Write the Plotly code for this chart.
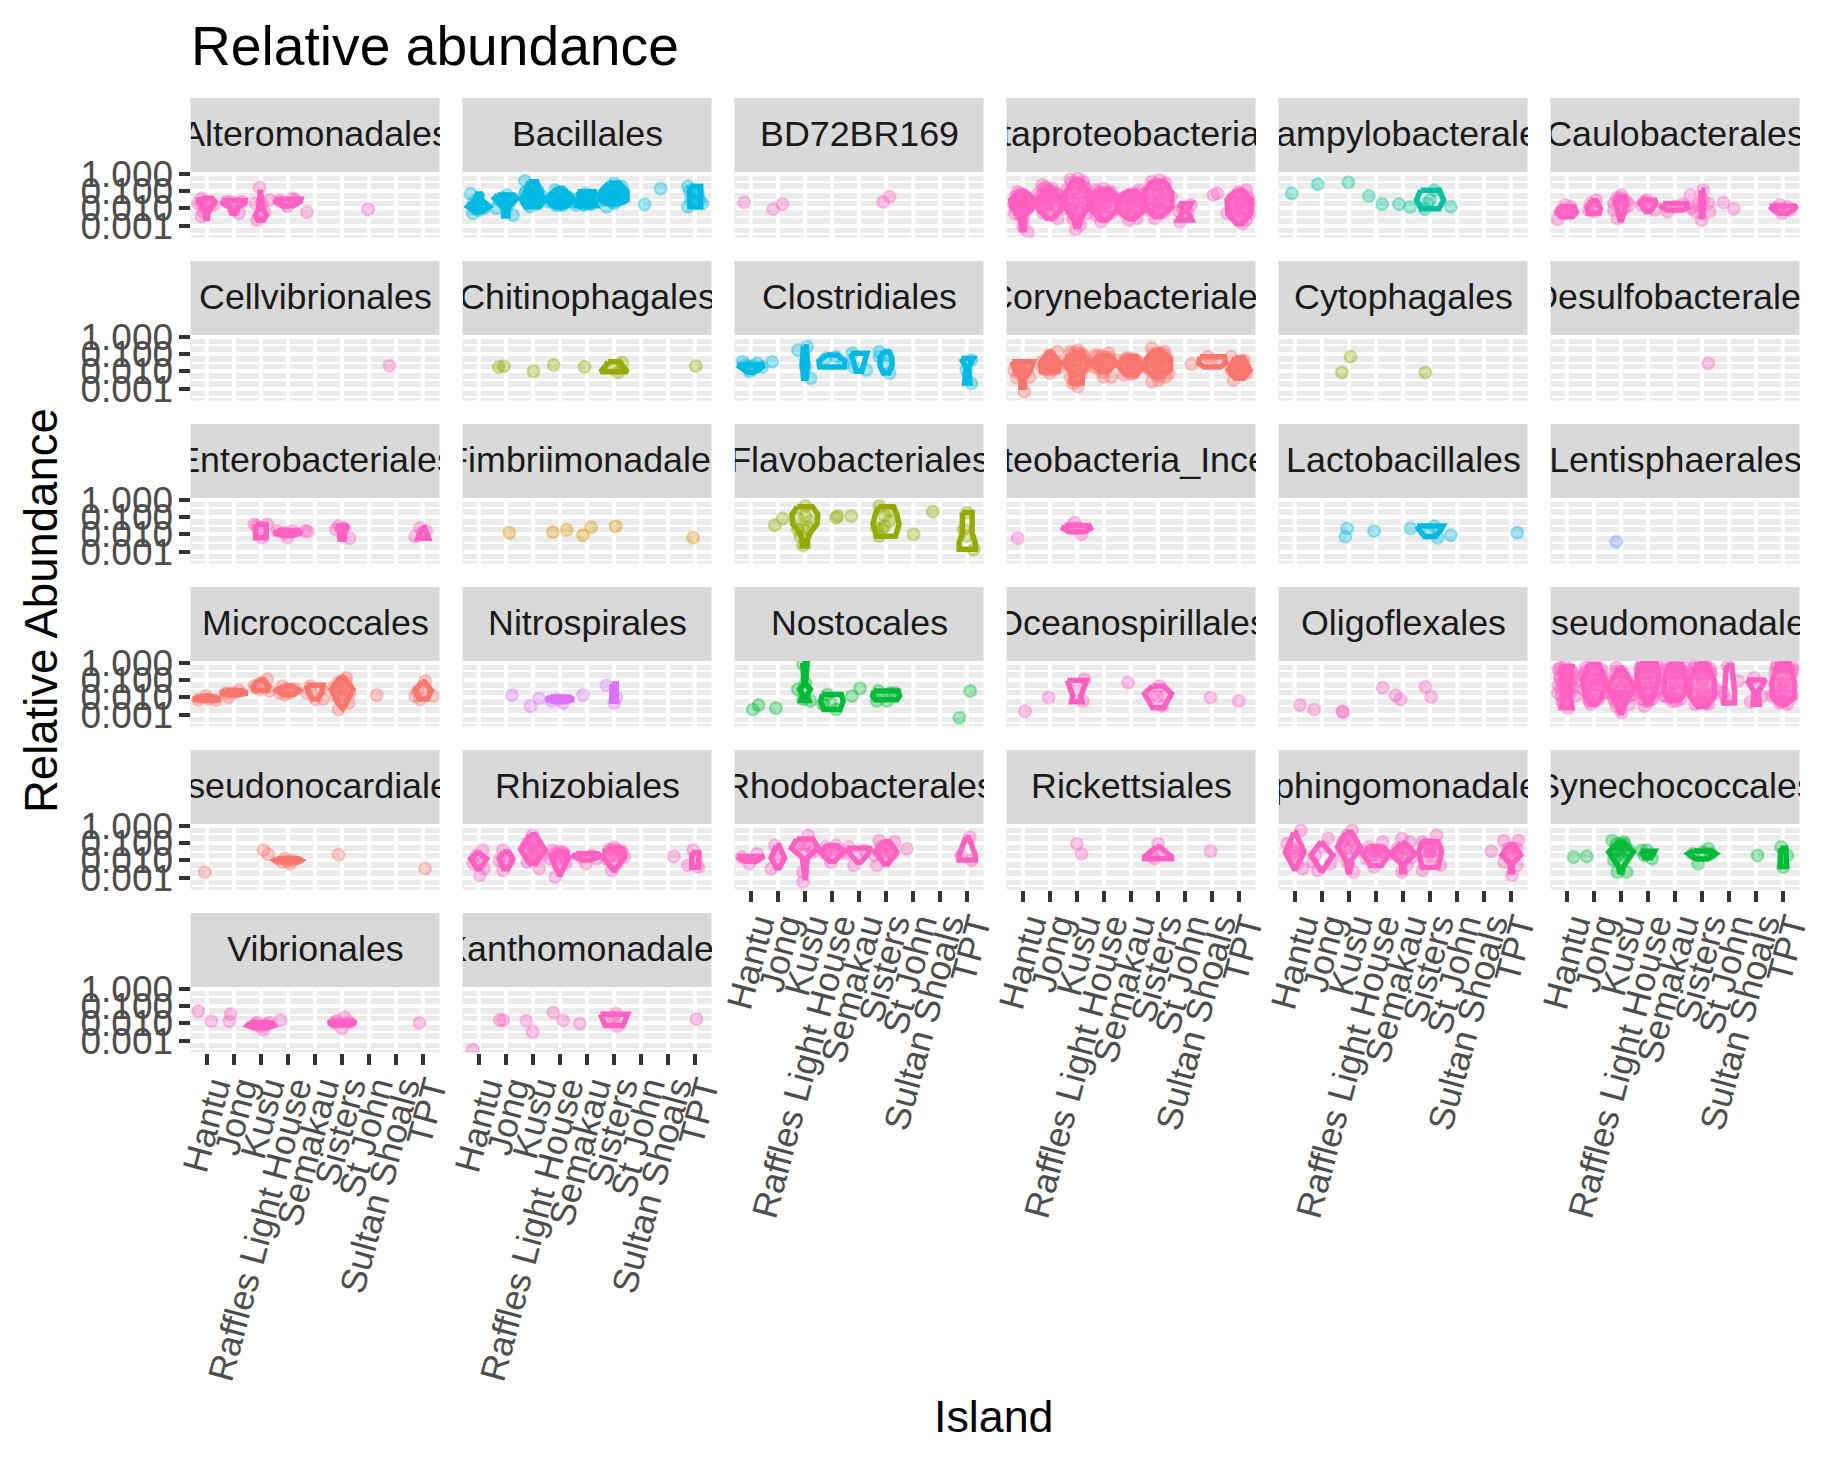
import plotly.graph_objects as go

# ---------- labels ----------
ISLANDS = ["Hantu", "Jong", "Kusu", "Raffles Light House", "Semakau", "Sisters", "St John", "Sultan Shoals", "TPT"]
Y_TICK_VALUES = [1.0, 0.1, 0.01, 0.001]
Y_TICK_LABELS = ["1.000", "0.100", "0.010", "0.001"]
Y_MINOR_VALUES = [0.316, 0.0316, 0.00316, 0.000316]

# ---------- phylum hues ----------
PINK = "255,97,195"
BLUE = "0,185,227"
SALMON = "248,118,109"
OLIVE = "147,170,0"
TEAL = "0,193,159"
GREEN = "0,186,56"
TAN = "211,146,0"
PURPLE = "219,114,251"
PERI = "97,156,255"

# ---------- data: x = island position with jitter, y = relative abundance,
# violins = (island, abundance levels, half widths) ----------
alteromonadales_x = [.81,.68,.81,.97,.81,.87,1.15,1.25,.97, 1.72,1.91,2.10,2.19,2.29,2.00, 2.95,2.80,3.32,2.85,2.95,3.13,3.04, 3.70,4.17,3.98,4.27,3.89, 4.70, 6.96]
alteromonadales_y = [.038,.019,.019,.024,.0033,.0064,.019,.0155,.008, .024,.024,.019,.0052,.024,.008, .16,.019,.03,.0021,.0033,.0064,.019, .028,.038,.013,.03,.019, .006, .0088]
alteromonadales_v = [(1,[.038,.024,.0125,.0064,.0026],[.2,.3,.18,.05,.03]), (2,[.028,.019,.012,.0052],[.42,.4,.15,.07]), (3,[.12,.03,.01,.0041,.0021],[.02,.04,.08,.2,.1]), (4,[.034,.024,.014],[.48,.45,.2])]

bacillales_x = [.70,.78,.91,1.19,.97, 1.66,1.89,2.04,2.27,2.13,1.76, 2.70,2.79,2.98,3.17,3.36,2.70,2.89,3.17,2.98, 3.83,4.02,4.30,3.55,4.11,3.93,4.40, 4.68,4.96,5.25,4.59,5.15,4.87, 5.72,6.0,6.19,5.91,6.28,5.62,6.09,5.81,6.0, 7.13, 7.72, 8.73,8.73,9.26,8.92,9.02,
    .8,.95,1.05,.85,1.0, 1.85,2.0,2.1,1.95,2.0,
    2.75,2.9,3.05,3.2,2.75,2.9,3.05,3.2,2.9,3.05,2.95,3.05,
    3.7,3.85,4.0,4.15,4.3,3.7,3.85,4.0,4.15,4.3,3.85,4.0,3.95,4.1,
    4.7,4.85,5.0,5.15,5.3,4.75,4.9,5.05,5.2,4.85,5.0,5.15,
    5.75,5.9,6.05,6.2,5.7,5.85,6.0,6.15,6.3,5.7,5.85,6.0,6.15,6.3,5.9,6.05,6.0,
    8.8,8.95,9.1,8.85,9.0,9.15]
bacillales_y = [.068,.0052,.0155,.01,.024, .01,.038,.059,.0041,.019,.03, .39,.019,.114,.019,.047,.073,.0125,.114,.038, .114,.019,.047,.024,.0155,.038,.024, .024,.073,.038,.0155,.019,.0155, .0125,.28,.038,.114,.18,.03,.059,.047,.019, .017, .14, .18,.0125,.019,.073,.019,
    .02,.018,.012,.01,.008, .028,.025,.03,.018,.012,
    .09,.09,.09,.08,.04,.04,.04,.04,.022,.022,.2,.15,
    .04,.05,.05,.05,.04,.025,.025,.025,.025,.025,.015,.015,.08,.08,
    .04,.05,.05,.05,.04,.025,.03,.03,.028,.018,.018,.018,
    .09,.12,.12,.1,.06,.07,.07,.07,.06,.035,.04,.04,.04,.035,.025,.025,.18,
    .1,.1,.08,.03,.03,.03]
bacillales_v = [(1,[.068,.038,.0125,.0064],[.15,.05,.4,.1]), (2,[.059,.038,.012,.0036],[.3,.42,.08,.08]), (3,[.34,.1,.03,.0125],[.15,.25,.42,.25]), (4,[.14,.06,.03,.0125],[.1,.35,.48,.2]), (5,[.09,.04,.014],[.35,.2,.35]), (6,[.28,.1,.03,.019],[.2,.48,.48,.2]), (9,[.19,.05,.0125],[.2,.22,.2])]

bd72br169_x = [.76,1.83,2.17,5.89,6.13]
bd72br169_y = [.022,.0088,.0175,.023,.047]
bd72br169_v = []

betaproteobacteriales_x = [.81,.97,1.12,.74,.93,1.15,.68,.87,1.06,1.25,.78,.97,1.19,.91,1.02,.70,1.19,1.0,
    1.72,1.57,1.87,2.10,1.63,1.81,2.00,2.29,2.44,1.68,1.91,2.19,1.76,2.10,2.29,2.00,
    2.76,3.04,3.23,2.62,2.95,3.32,3.42,2.66,2.85,3.13,3.42,2.57,2.81,3.13,3.38,2.85,3.04,2.95,3.13,
    3.70,3.98,4.27,4.45,3.60,3.85,4.13,3.57,3.79,4.08,4.36,3.70,3.98,4.27,3.89,
    4.74,5.02,5.30,5.45,4.64,4.92,5.21,5.40,4.70,5.02,5.34,4.92,5.21,
    5.77,6.06,6.28,5.64,5.96,6.24,6.47,5.53,5.77,6.06,6.40,5.68,5.96,6.24,5.87,
    7.22,6.90,6.81,7.09,7.0,6.77, 8.04,8.19,
    9.26,8.98,8.70,9.45,9.17,8.55,8.88,9.26,8.79,9.41,9.11,9.26,
    .75,.85,.95,1.05,1.15,.8,.9,1.0,1.1,.85,.95,1.05,.9,1.0,.95,
    1.75,1.85,1.95,2.1,2.25,1.7,1.8,1.95,2.1,2.3,1.75,1.9,2.05,2.2,1.95,
    2.8,2.95,3.1,3.25,2.7,2.85,3.0,3.2,3.3,2.75,2.9,3.05,3.25,2.95,3.05,2.9,
    3.75,3.9,4.05,4.2,3.7,3.85,4.0,4.15,4.3,3.7,3.85,4.0,4.15,3.85,4.0,
    4.8,4.95,5.1,5.25,4.7,4.85,5.0,5.15,5.3,4.75,4.9,5.05,5.2,4.95,5.1,
    5.8,5.95,6.1,6.25,5.7,5.85,6.0,6.15,6.35,5.7,5.85,6.0,6.15,6.3,5.85,6.0,6.15,
    8.8,8.95,9.1,9.3,8.75,8.9,9.05,9.2,9.35,8.8,8.95,9.1,9.3,9.0,9.1]
betaproteobacteriales_y = [.09,.059,.047,.03,.038,.024,.0155,.019,.0125,.019,.008,.0064,.01,.0041,.0026,.0052,.0004,.00088,
    .22,.073,.114,.09,.03,.038,.03,.038,.019,.0125,.0125,.0125,.0052,.0041,.0026,.073,
    .47,.54,.35,.114,.14,.14,.059,.038,.03,.047,.019,.01,.008,.01,.0052,.0026,.0021,.0006,.0011,
    .114,.14,.09,.038,.038,.038,.03,.0125,.01,.0125,.01,.0041,.0033,.0052,.0017,
    .038,.073,.114,.059,.0155,.019,.024,.019,.0064,.0064,.008,.0021,.0026,
    .35,.43,.28,.114,.114,.09,.047,.024,.03,.03,.0155,.008,.0064,.0064,.0026,
    .0155,.01,.0017,.0052,.0033,.0064, .059,.073,
    .114,.09,.03,.024,.038,.0052,.0125,.01,.0041,.0052,.00136,.0021,
    .05,.06,.07,.05,.04,.025,.03,.022,.028,.012,.014,.011,.007,.006,.004,
    .13,.17,.12,.14,.07,.06,.05,.06,.05,.06,.02,.02,.02,.018,.008,
    .3,.3,.25,.2,.08,.09,.08,.08,.09,.02,.02,.02,.02,.007,.007,.004,
    .08,.08,.09,.07,.05,.055,.05,.05,.05,.02,.02,.02,.02,.007,.007,
    .05,.05,.06,.07,.035,.035,.035,.04,.035,.011,.012,.011,.012,.004,.004,
    .2,.25,.22,.16,.07,.07,.07,.07,.07,.018,.018,.018,.02,.02,.012,.01,.01,
    .05,.055,.06,.05,.02,.022,.02,.022,.02,.007,.008,.007,.008,.003,.003]
betaproteobacteriales_v = [(1,[.09,.03,.012,.004,.0006],[.1,.45,.4,.08,.05]), (2,[.15,.03,.008,.0026],[.1,.45,.4,.1]), (3,[.4,.06,.01,.0021,.0009],[.15,.45,.4,.1,.05]), (4,[.11,.03,.008,.0021],[.25,.5,.45,.12]), (5,[.09,.025,.006,.0026],[.2,.45,.4,.1]), (6,[.35,.08,.012,.0033],[.25,.5,.5,.12]), (7,[.019,.007,.0021],[.22,.08,.25]), (9,[.11,.03,.005,.0013],[.1,.45,.42,.1])]

campylobacterales_x = [.89,1.85,2.98,3.74,4.23,4.85,5.26,5.81,6.15,6.0,5.91,6.77]
campylobacterales_y = [.073,.25,.32,.052,.0175,.0175,.012,.0088,.114,.03,.019,.0125]
campylobacterales_v = [(6,[.11,.03,.0095],[.35,.5,.33])]

caulobacterales_x = [.76,.95,1.23,.98,.66,1.14, 1.89,1.98,1.80,2.08,1.98, 2.74,3.02,3.21,2.87,3.02,2.74,3.12,2.93,3.30, 3.96,4.25,3.77,4.06,3.87, 4.72,5.28,5.0,5.62, 5.57,6.04,6.23,5.98,5.75,6.28,6.04,5.85, 6.79,7.17, 8.77,8.96,9.15,8.87,9.24,
    .85,.95,1.05, 2.85,3.0,3.1,2.95]
caulobacterales_y = [.0064,.0155,.0064,.0052,.0023,.0125, .019,.0064,.008,.03,.0125, .019,.059,.024,.0026,.0064,.008,.01,.03,.0155, .03,.008,.0155,.0155,.024, .0064,.017,.012,.01, .059,.114,.019,.0021,.0064,.0064,.03,.0155, .021,.0095, .01,.0052,.0125,.0155,.008,
    .008,.007,.008, .04,.04,.03,.02]
caulobacterales_v = [(1,[.0125,.006,.0033],[.25,.35,.2]), (2,[.028,.01,.0052],[.1,.25,.2]), (3,[.047,.02,.006,.0021],[.15,.2,.1,.03]), (4,[.03,.02,.0064],[.25,.3,.08]), (5,[.019,.012,.008],[.45,.5,.3]), (6,[.114,.02,.0033],[.03,.06,.03]), (9,[.0135,.009,.0052],[.5,.4,.15])]

cellvibrionales_x = [7.75]
cellvibrionales_y = [.021]
cellvibrionales_v = []

chitinophagales_x = [1.74,1.93,3.02,3.77,4.91,6.30,6.15,5.94,9.02]
chitinophagales_y = [.018,.02,.01,.023,.018,.032,.0085,.015,.02]
chitinophagales_v = [(6,[.036,.022,.0095],[.22,.3,.5])]

clostridiales_x = [.70,.95,1.23,1.42,1.80, 2.74,3.08,3.21,3.02, 3.77,4.15,4.43, 4.76,5.28,4.81, 5.75,6.13,5.94,5.75,6.04, 9.15,9.15,8.96, .8,.95,1.1]
clostridiales_y = [.036,.0098,.029,.018,.036, .17,.265,.004,.018, .056,.07,.029, .11,.012,.018, .136,.0077,.029,.07,.087, .045,.002,.012, .022,.02,.02]
clostridiales_v = [(1,[.023,.0125,.0085],[.5,.3,.1]), (3,[.265,.03,.004],[.05,.1,.05]), (4,[.087,.04,.018],[.2,.48,.45]), (5,[.11,.06,.01],[.3,.25,.1]), (6,[.136,.06,.02,.008],[.1,.22,.22,.1]), (9,[.056,.017,.0021],[.22,.05,.1])]

corynebacteriales_x = [.68,.97,1.06,.87,1.15,.78,1.25, 1.72,2.0,2.29,2.38,2.0,2.19,1.81, 2.76,3.04,3.23,2.66,2.95,3.32,2.85,3.04,2.76,3.13, 3.70,4.17,4.45,3.60,3.89,4.27,3.98,3.79, 4.83,5.21,4.70,5.02,5.34,4.74,5.11, 5.77,6.24,5.68,5.96,6.24,6.40,5.77,6.02,6.15,5.77,6.28, 7.23, 7.85,8.22,7.94, 8.70,9.17,8.79,8.88,9.26,8.70,9.07,
    .85,.95,1.05,.9,1.0,
    1.75,1.9,2.05,2.2,1.8,1.95,2.1,2.25,1.9,2.05,2.0,
    2.8,2.95,3.1,3.25,2.7,2.85,3.0,3.15,3.3,2.8,2.95,3.1,2.9,3.0,2.9,3.0,
    3.75,3.9,4.05,4.2,3.7,3.85,4.0,4.15,4.3,3.8,3.95,4.1,3.95,
    4.8,4.95,5.1,4.75,4.9,5.05,5.2,4.85,5.0,5.15,5.0,
    5.8,5.95,6.1,6.25,5.75,5.9,6.05,6.2,6.35,5.75,5.9,6.05,6.2,6.35,5.85,6.0,6.15,5.95,6.05,
    8.95,9.1,8.85,9.0,9.15,8.9,9.05,9.2,9.0,9.1]
corynebacteriales_y = [.012,.018,.00067,.0077,.012,.0041,.0048, .0145,.087,.136,.018,.0077,.029,.023, .136,.17,.07,.029,.012,.018,.002,.0013,.0048,.0062, .087,.11,.045,.018,.018,.0048,.0048,.036, .056,.045,.018,.018,.018,.0062,.0077, .21,.136,.012,.045,.018,.0077,.0025,.0031,.045,.036,.0048, .026, .07,.036,.036, .07,.045,.0031,.012,.0077,.012,.018,
    .02,.02,.015,.01,.008,
    .04,.045,.05,.04,.022,.02,.022,.02,.012,.012,.06,
    .1,.12,.11,.09,.045,.05,.05,.05,.04,.022,.022,.022,.01,.01,.004,.003,
    .07,.08,.07,.06,.03,.035,.03,.035,.03,.015,.015,.015,.009,
    .05,.06,.05,.03,.03,.03,.03,.013,.012,.013,.007,
    .09,.1,.1,.09,.05,.05,.055,.05,.05,.022,.022,.022,.022,.022,.011,.011,.011,.006,.005,
    .035,.035,.02,.02,.02,.012,.012,.012,.007,.007]
corynebacteriales_v = [(1,[.036,.012,.0041,.0012],[.4,.3,.07,.07]), (2,[.136,.03,.0095],[.05,.35,.3]), (3,[.114,.03,.0064,.0021],[.2,.45,.2,.2]), (4,[.08,.03,.0095],[.2,.48,.1]), (5,[.07,.02,.0064],[.2,.45,.2]), (6,[.19,.05,.012,.005],[.05,.45,.45,.1]), (8,[.07,.03,.018],[.45,.5,.3]), (9,[.06,.012,.004],[.15,.4,.15])]

cytophagales_x = [3.06,2.74,5.83]
cytophagales_y = [.07,.0085,.0085]
cytophagales_v = []

desulfobacterales_x = [6.23]
desulfobacterales_y = [.029]
desulfobacterales_v = []

enterobacteriales_x = [2.76,3.23,3.04,2.95,2.85, 3.60,3.98,4.17,3.89,4.74,4.64, 5.87,6.06,6.28,5.77, 8.70,8.88,9.11,8.98]
enterobacteriales_y = [.038,.038,.0064,.0155,.03, .0155,.0064,.0155,.0125,.015,.0155, .03,.024,.006,.019, .0076,.024,.0155,.0125]
enterobacteriales_v = [(3,[.038,.0064],[.2,.2]), (4,[.0165,.012,.0085],[.4,.5,.15]), (6,[.03,.015,.0052],[.22,.1,.08]), (9,[.024,.006],[.05,.2])]

fimbriimonadales_x = [2.13,3.74,4.25,4.85,5.15,6.06,8.92]
fimbriimonadales_y = [.0125,.0135,.018,.0088,.026,.029,.0064]
fimbriimonadales_v = []

flavobacteriales_x = [1.89,2.17, 2.74,3.02,3.21,2.93,3.12,2.83,3.02,2.93,2.74, 4.21,4.72,4.15, 5.75,6.13,5.75,5.94,6.13,5.66,5.94,5.85, 7.02, 7.73, 9.0,9.0,9.24,8.87]
flavobacteriales_y = [.034,.08, .09,.43,.059,.019,.024,.008,.114,.0023,.019, .114,.114,.09, .43,.22,.008,.03,.059,.024,.114,.019, .01, .2, .18,.008,.00136,.019]
flavobacteriales_v = [(3,[.39,.14,.04,.0125,.0052,.0021],[.28,.48,.45,.2,.1,.1]), (6,[.39,.14,.04,.0078],[.28,.4,.48,.35]), (9,[.18,.05,.012,.0032,.0014],[.18,.18,.18,.3,.3])]

gammaproteobacteria_x = [.81, 2.91,3.17,3.04,2.76]
gammaproteobacteria_y = [.006, .047,.01,.024,.024]
gammaproteobacteria_v = [(3,[.032,.022,.014],[.45,.5,.3])]

lactobacillales_x = [2.93,2.87,3.93,5.28,6.15,6.28,5.96,6.77,9.22]
lactobacillales_y = [.022,.0072,.0155,.022,.03,.0064,.0125,.0088,.0125]
lactobacillales_v = [(6,[.03,.018,.0075],[.48,.4,.2])]

lentisphaerales_x = [2.83]
lentisphaerales_y = [.0038]
lentisphaerales_v = []

micrococcales_x = [.97,.68,1.34,1.06, 1.81,2.19,2.0,1.72, 3.23,2.76,2.95,3.32,3.04, 3.79,4.08,3.70,3.98,4.27,3.89, 4.83,5.21,4.70,5.02,5.30, 6.15,5.68,5.87,6.24,6.06,5.77,6.06,6.28, 7.28, 9.07,9.36,8.79,8.88,8.70,8.98,
    5.85,6.0,6.15,5.8,5.95,6.1,5.9,6.05]
micrococcales_y = [.012,.0071,.0071,.008, .0098,.025,.018,.018, .11,.045,.029,.023,.07, .045,.018,.018,.029,.029,.0145, .045,.029,.018,.0077,.0077, .136,.036,.002,.0048,.012,.012,.045,.018, .0135, .087,.012,.023,.0077,.012,.036,
    .07,.08,.07,.03,.03,.03,.012,.012]
micrococcales_v = [(1,[.012,.0078,.0065],[.1,.5,.3]), (2,[.025,.018,.014],[.3,.5,.2]), (3,[.1,.04,.025],[.1,.3,.25]), (4,[.045,.025,.0145],[.15,.42,.2]), (5,[.05,.02,.008],[.3,.25,.1]), (6,[.16,.03,.0045,.0022],[.02,.4,.15,.02]), (9,[.08,.025,.008],[.05,.3,.15])]

nitrospirales_x = [2.23,2.91,3.23,3.68,4.11,3.93,4.85,5.72,6.0,6.09]
nitrospirales_y = [.0135,.0031,.0085,.0062,.0048,.0077,.0135,.05,.0048,.0098]
nitrospirales_v = [(4,[.0105,.0075,.0055],[.35,.5,.2]), (6,[.06,.006],[.08,.08])]

nostocales_x = [1.08,1.29,1.93, 2.93,2.74,3.21,2.93,3.02, 3.83,4.15,3.96,3.68, 4.74,5.04, 5.72,6.13,5.66,6.04,6.32, 8.71,9.11]
nostocales_y = [.002,.0036,.0024, .8,.029,.0062,.0077,.07, .0145,.002,.0048,.004, .012,.033, .023,.018,.0062,.0062,.018, .00067,.023]
nostocales_v = [(3,[1.0,.2,.06,.03,.014,.0065],[.08,.04,.03,.2,.08,.15]), (4,[.0145,.006,.002],[.35,.42,.3]), (6,[.023,.012,.0072],[.45,.5,.4])]

oceanospirillales_x = [1.08,1.96, 3.28,3.23,2.95, 4.89, 5.77,6.06,6.15,5.96,6.24, 7.94,8.98]
oceanospirillales_y = [.0016,.0098, .11,.0062,.025, .07, .012,.045,.0031,.012,.012, .0098,.0062]
oceanospirillales_v = [(3,[.095,.04,.012,.0055],[.35,.25,.15,.2]), (6,[.045,.016,.0025],[.2,.5,.2])]

oligoflexales_x = [1.19,1.72,2.76,2.78,4.25,4.72,4.91,5.83,6.04]
oligoflexales_y = [.0036,.002,.0016,.0014,.036,.013,.0077,.04,.0105]
oligoflexales_v = []

pseudomonadales_x = [.76,.95,1.23,.85,1.23,.66,.85,1.04,1.32,.76,1.14,
    1.70,1.98,2.27,1.80,2.17,1.61,1.98,2.36,1.80,2.17,1.89,1.61,
    2.83,3.02,2.64,3.02,3.40,2.74,3.12,3.49,3.02,2.83,3.30,2.55,
    3.77,4.06,4.34,3.87,4.25,3.68,4.06,4.43,3.77,4.15,4.62,3.87,
    4.72,5.09,5.38,4.81,5.19,4.72,5.09,5.47,4.81,5.19,4.62,
    5.75,6.13,6.32,5.66,6.04,5.66,6.04,6.41,5.75,6.23,5.94,6.51,
    6.94,7.32,6.89,6.79, 7.92,7.79,8.21,8.02,
    8.77,9.05,9.34,8.68,9.05,8.68,9.05,9.34,8.87,9.15,8.58,
    .7,.85,1.0,1.15,1.3,.75,.9,1.05,1.2,.7,.85,1.0,1.15,.8,.95,1.1,.8,.95,1.1,.85,1.0,
    1.7,1.85,2.0,2.15,2.3,1.7,1.85,2.0,2.15,2.3,1.7,1.85,2.0,2.15,2.3,1.8,1.95,2.1,1.85,2.0,
    2.8,2.95,3.1,2.7,2.85,3.0,3.15,3.3,2.6,2.75,2.9,3.05,3.2,3.35,2.7,2.85,3.0,3.15,3.3,2.85,3.0,
    3.7,3.85,4.0,4.15,4.3,3.75,3.9,4.05,4.2,3.7,3.85,4.0,4.15,4.3,3.7,3.85,4.0,4.15,4.3,3.9,4.05,
    4.75,4.9,5.05,5.2,5.35,4.75,4.9,5.05,5.2,5.35,4.7,4.85,5.0,5.15,5.3,4.75,4.9,5.05,5.2,4.9,5.05,
    5.7,5.85,6.0,6.15,6.3,5.7,5.85,6.0,6.15,6.3,5.7,5.85,6.0,6.15,6.35,5.7,5.85,6.0,6.15,6.3,5.85,6.0,6.15,
    8.75,8.9,9.05,9.2,9.35,8.7,8.85,9.0,9.15,9.3,8.7,8.85,9.0,9.15,9.3,8.75,8.9,9.05,9.2,8.9,9.05]
pseudomonadales_y = [.52,.64,.265,.07,.036,.018,.0048,.0025,.012,.17,.087,
    .52,.8,.41,.07,.11,.029,.029,.018,.0077,.0077,.004,.17,
    .52,.17,.036,.036,.036,.0077,.0077,.0145,.0013,.0031,.004,.018,
    .8,1.0,.64,.136,.136,.029,.029,.029,.0077,.0077,.012,.0031,
    .8,.64,.52,.136,.11,.029,.029,.029,.0098,.0077,.012,
    .8,.8,.265,.11,.11,.018,.018,.0145,.004,.004,.0077,.029,
    .64,.087,.0077,.018, .136,.0055,.012,.045,
    .8,1.0,.64,.07,.07,.018,.018,.012,.0048,.004,.012,
    .4,.35,.4,.35,.15,.12,.13,.12,.1,.05,.05,.05,.05,.025,.025,.025,.012,.012,.015,.006,.006,
    .3,.35,.45,.3,.2,.12,.12,.13,.12,.1,.05,.05,.05,.05,.05,.015,.015,.015,.006,.006,
    .3,.3,.25,.09,.1,.1,.09,.08,.03,.022,.022,.022,.022,.025,.012,.012,.012,.012,.012,.005,.005,
    .45,.5,.6,.5,.4,.25,.25,.25,.25,.07,.07,.07,.07,.07,.018,.018,.018,.018,.018,.006,.006,
    .45,.5,.5,.4,.3,.22,.25,.25,.22,.2,.07,.07,.07,.07,.07,.018,.018,.018,.018,.006,.006,
    .5,.5,.5,.5,.45,.25,.25,.25,.25,.25,.06,.06,.06,.06,.06,.012,.012,.012,.012,.012,.005,.005,.005,
    .5,.55,.55,.5,.4,.25,.25,.25,.25,.25,.05,.05,.05,.05,.05,.012,.012,.012,.012,.006,.006]
pseudomonadales_v = [(1,[.6,.08,.012,.0025],[.2,.12,.12,.2]), (2,[.8,.1,.01,.0041],[.2,.42,.3,.1]), (3,[.5,.04,.006,.0013],[.05,.5,.2,.04]), (4,[1.0,.2,.025,.005],[.3,.42,.3,.1]), (5,[.8,.1,.02,.0066],[.25,.4,.4,.15]), (6,[.9,.1,.012,.003],[.15,.45,.45,.15]), (7,[.7,.02,.0047],[.1,.2,.2]), (8,[.1,.022,.004],[.35,.08,.12]), (9,[1,.1,.01,.004],[.2,.4,.4,.1])]

pseudonocardiales_x = [.93,3.10,3.27,3.98,3.89,4.17,3.79,4.08,5.87,9.07]
pseudonocardiales_y = [.0021,.038,.022,.0088,.0125,.01,.008,.0064,.021,.0033]
pseudonocardiales_v = [(4,[.0125,.01,.008],[.4,.5,.4])]

rhizobiales_x = [1.15,1.00,.81,1.04,.93,1.19, 1.89,1.76,2.13,1.89,2.04, 2.98,2.70,3.17,2.89,3.23,3.02,3.36,2.79, 3.74,4.11,3.83,3.64,4.21,3.93, 4.77,5.15,4.96,5.34, 5.91,6.0,6.28,5.72,6.09,6.38, 8.21, 8.92,8.73,9.11,9.02,
    2.8,2.95,3.1,2.85,3.0,3.15,2.95,3.05, 3.8,3.95,4.1,3.85,4.0,4.15, 5.8,5.95,6.1,6.25,5.85,6.0,6.15]
rhizobiales_y = [.038,.0064,.0064,.00136,.019,.0033, .038,.01,.01,.0026,.019, .28,.047,.03,.0125,.0033,.114,.019,.008, .038,.03,.0011,.0125,.0064,.0052, .0155,.019,.0064,.0125, .0026,.059,.03,.0125,.0064,.0155, .0165, .038,.0052,.0041,.0155,
    .1,.1,.08,.04,.05,.04,.02,.02, .025,.03,.025,.012,.012,.015, .04,.04,.04,.035,.018,.018,.018]
rhizobiales_v = [(1,[.03,.0125,.0033],[.03,.3,.05]), (2,[.03,.012,.0033],[.1,.25,.08]), (3,[.3,.04,.0064],[.1,.45,.1]), (4,[.03,.0125,.0016],[.25,.3,.03]), (5,[.024,.017,.0105],[.4,.5,.1]), (6,[.047,.015,.0026],[.3,.4,.02]), (9,[.028,.004],[.13,.13])]

rhodobacterales_x = [.66,.95,1.23, 1.89,1.76,2.08,1.98, 3.12,2.74,2.93,3.30,2.93,3.02, 3.77,4.15,3.96,3.77,4.34, 4.62,4.91,4.81,5.19,4.53, 5.75,6.32,5.66,5.94,6.23,5.57, 6.77, 9.09,8.77,9.15,
    5.8,5.95,6.1,5.85,6.0,6.15, 2.85,3.0,3.15, 3.85,4.0,4.15]
rhodobacterales_y = [.0155,.0064,.024, .073,.0033,.0125,.024, .28,.073,.00056,.03,.0021,.024, .059,.073,.008,.024,.03, .059,.03,.0052,.038,.024, .14,.114,.0052,.019,.024,.019, .047, .22,.019,.01,
    .06,.06,.06,.03,.03,.03, .09,.09,.07, .04,.04,.04]
rhodobacterales_v = [(1,[.0165,.0125,.0088],[.5,.4,.2]), (2,[.07,.014,.0036],[.05,.25,.05]), (3,[.17,.05,.015,.003,.0007],[.3,.5,.1,.04,.02]), (4,[.07,.03,.009],[.2,.42,.1]), (5,[.05,.02,.0078],[.45,.3,.06]), (6,[.12,.03,.006],[.12,.4,.06]), (9,[.2,.02,.0105],[.06,.3,.3])]

rickettsiales_x = [3.0,3.17,6.0,5.77,5.87,6.15,7.94]
rickettsiales_y = [.09,.024,.09,.019,.0125,.024,.034]
rickettsiales_v = [(6,[.06,.016,.0125],[.06,.5,.5])]

sphingomonadales_x = [1.23,.72,1.29,1.0,1.10, 2.23,1.76,1.85,2.32,2.04,1.66, 3.12,2.79,3.17,2.70,3.27,2.95,2.98, 4.25,3.74,3.93,4.40,4.02,3.64, 4.96,5.25,4.96,4.77,5.34,5.15, 6.24,5.72,5.72,6.38,6.0,6.28, 8.26, 8.73,9.26,9.02,8.73,9.21,8.92,
    2.85,3.0,3.15,2.9,3.05,2.95, 3.8,3.95,4.1,4.25,3.85,4.0,4.15, 4.8,4.95,5.1,4.85,5.0,5.15, 5.8,5.95,6.1,5.85,6.0,6.15,5.9,6.05, .9,1.05,.95,1.0, 8.9,9.05,9.2,8.95,9.1]
sphingomonadales_y = [.54,.09,.0033,.019,.0064, .18,.019,.0026,.0064,.059,.008, .54,.114,.0021,.019,.038,.28,.0064, .114,.059,.0041,.019,.03,.0125, .18,.114,.0021,.019,.0155,.0052, .28,.114,.0026,.0052,.03,.047, .034, .14,.14,.00136,.008,.0052,.03,
    .15,.15,.12,.05,.05,.02, .04,.04,.04,.03,.02,.02,.02, .05,.05,.05,.025,.025,.025, .08,.08,.08,.035,.035,.035,.015,.015, .05,.05,.03,.03, .05,.05,.05,.02,.02]
sphingomonadales_v = [(1,[.4,.03,.0033],[.03,.35,.03]), (2,[.12,.02,.0026],[.03,.4,.04]), (3,[.4,.06,.01,.0021],[.1,.42,.1,.03]), (4,[.06,.025,.005],[.25,.5,.2]), (5,[.1,.025,.006,.0021],[.05,.45,.05,.05]), (6,[.12,.03,.004],[.3,.42,.3]), (9,[.08,.02,.0064,.0021],[.1,.35,.04,.04])]

synechococcales_x = [1.25,1.74, 2.68,3.11,2.74,2.87,3.21,3.02,3.30,2.83, 3.77,4.15,3.87,3.96, 6.23,5.85,5.66,6.32,6.04, 8.05, 8.92,9.0,9.15,
    2.85,3.0,3.15,2.9,3.05,2.95,3.05]
synechococcales_y = [.0155,.017, .14,.114,.01,.0021,.0021,.03,.038,.047, .038,.0125,.019,.038, .047,.0064,.024,.024,.03, .019, .059,.0041,.019,
    .09,.09,.08,.04,.04,.02,.012]
synechococcales_v = [(3,[.11,.03,.004,.0021],[.1,.45,.08,.05]), (4,[.034,.014],[.25,.12]), (6,[.035,.024,.012],[.3,.5,.2]), (9,[.05,.0045],[.1,.12])]

vibrionales_x = [.69,1.17,1.88,1.83, 2.78,2.99,3.19,3.08,2.87,3.31, 3.73, 5.82,6.09,6.0,5.73,6.26, 8.86]
vibrionales_y = [.051,.0133,.035,.0133, .0087,.0068,.0087,.0042,.011,.011, .0154, .014,.0225,.0053,.011,.012, .0105]
vibrionales_v = [(3,[.011,.0075,.0055],[.4,.5,.25]), (6,[.0135,.0105,.008],[.4,.5,.3])]

xanthomonadales_x = [.79,1.78,1.90,2.76,2.99,3.76,4.12,4.73, 6.07,6.12,5.98,5.80, 9.04]
xanthomonadales_y = [.0003,.0154,.0154,.014,.0032,.042,.0146,.0095, .037,.0068,.0225,.014, .0178]
xanthomonadales_v = [(6,[.034,.014,.0075],[.5,.42,.33])]

PANELS = [
    ("Alteromonadales", PINK, alteromonadales_x, alteromonadales_y, alteromonadales_v),
    ("Bacillales", BLUE, bacillales_x, bacillales_y, bacillales_v),
    ("BD72BR169", PINK, bd72br169_x, bd72br169_y, bd72br169_v),
    ("Betaproteobacteriales", PINK, betaproteobacteriales_x, betaproteobacteriales_y, betaproteobacteriales_v),
    ("Campylobacterales", TEAL, campylobacterales_x, campylobacterales_y, campylobacterales_v),
    ("Caulobacterales", PINK, caulobacterales_x, caulobacterales_y, caulobacterales_v),
    ("Cellvibrionales", PINK, cellvibrionales_x, cellvibrionales_y, cellvibrionales_v),
    ("Chitinophagales", OLIVE, chitinophagales_x, chitinophagales_y, chitinophagales_v),
    ("Clostridiales", BLUE, clostridiales_x, clostridiales_y, clostridiales_v),
    ("Corynebacteriales", SALMON, corynebacteriales_x, corynebacteriales_y, corynebacteriales_v),
    ("Cytophagales", OLIVE, cytophagales_x, cytophagales_y, cytophagales_v),
    ("Desulfobacterales", PINK, desulfobacterales_x, desulfobacterales_y, desulfobacterales_v),
    ("Enterobacteriales", PINK, enterobacteriales_x, enterobacteriales_y, enterobacteriales_v),
    ("Fimbriimonadales", TAN, fimbriimonadales_x, fimbriimonadales_y, fimbriimonadales_v),
    ("Flavobacteriales", OLIVE, flavobacteriales_x, flavobacteriales_y, flavobacteriales_v),
    ("Gammaproteobacteria_Incertae_Sedis", PINK, gammaproteobacteria_x, gammaproteobacteria_y, gammaproteobacteria_v),
    ("Lactobacillales", BLUE, lactobacillales_x, lactobacillales_y, lactobacillales_v),
    ("Lentisphaerales", PERI, lentisphaerales_x, lentisphaerales_y, lentisphaerales_v),
    ("Micrococcales", SALMON, micrococcales_x, micrococcales_y, micrococcales_v),
    ("Nitrospirales", PURPLE, nitrospirales_x, nitrospirales_y, nitrospirales_v),
    ("Nostocales", GREEN, nostocales_x, nostocales_y, nostocales_v),
    ("Oceanospirillales", PINK, oceanospirillales_x, oceanospirillales_y, oceanospirillales_v),
    ("Oligoflexales", PINK, oligoflexales_x, oligoflexales_y, oligoflexales_v),
    ("Pseudomonadales", PINK, pseudomonadales_x, pseudomonadales_y, pseudomonadales_v),
    ("Pseudonocardiales", SALMON, pseudonocardiales_x, pseudonocardiales_y, pseudonocardiales_v),
    ("Rhizobiales", PINK, rhizobiales_x, rhizobiales_y, rhizobiales_v),
    ("Rhodobacterales", PINK, rhodobacterales_x, rhodobacterales_y, rhodobacterales_v),
    ("Rickettsiales", PINK, rickettsiales_x, rickettsiales_y, rickettsiales_v),
    ("Sphingomonadales", PINK, sphingomonadales_x, sphingomonadales_y, sphingomonadales_v),
    ("Synechococcales", GREEN, synechococcales_x, synechococcales_y, synechococcales_v),
    ("Vibrionales", PINK, vibrionales_x, vibrionales_y, vibrionales_v),
    ("Xanthomonadales", PINK, xanthomonadales_x, xanthomonadales_y, xanthomonadales_v),
]

# ---------- layout constants (pixels of the 1821x1465 page) ----------
W, H = 1821, 1465
LEFT0, COL_PITCH, PANEL_W = 190.5, 272.0, 249.0
TOP0, ROW_PITCH, PANEL_H, STRIP_H = 172.0, 163.0, 65.5, 74.0
N_COLS = 6
N_PANELS = len(PANELS)
FONT = "Liberation Sans"
X_TICK_FONT = dict(family=FONT, size=35.8, color="#4D4D4D")
Y_TICK_FONT = dict(family=FONT, size=37, color="#4D4D4D")

fig = go.Figure()
layout = dict(
    template="none",
    width=W, height=H, autosize=False,
    margin=dict(l=0, r=0, t=0, b=0, pad=0),
    paper_bgcolor="white", plot_bgcolor="rgba(0,0,0,0)",
    showlegend=False, hovermode=False,
    font=dict(family=FONT),
)
shapes, annotations = [], []


def px(x):
    return x / W


def py(y):
    return 1 - y / H


for idx, (name, hue, xs, ys, violins) in enumerate(PANELS):
    row, col = divmod(idx, N_COLS)
    sfx = "" if idx == 0 else str(idx + 1)
    left = LEFT0 + col * COL_PITCH
    top = TOP0 + row * ROW_PITCH
    is_bottom = idx + N_COLS >= N_PANELS
    is_left = col == 0

    layout["xaxis" + sfx] = dict(
        domain=[px(left), px(left + PANEL_W)], anchor="y" + sfx, automargin=False,
        range=[0.4, 9.6], type="linear", zeroline=False, showline=False,
        showgrid=True, gridcolor="white", gridwidth=3.6,
        tickmode="array", tickvals=list(range(1, 10)),
        ticktext=ISLANDS if is_bottom else [""] * 9,
        showticklabels=is_bottom,
        ticks="outside" if is_bottom else "", ticklen=11, tickwidth=3.6, tickcolor="#333333",
        tickangle=-75, tickfont=X_TICK_FONT, ticklabelstandoff=-12, ticklabelshift=7,
    )
    layout["yaxis" + sfx] = dict(
        domain=[py(top + PANEL_H), py(top)], anchor="x" + sfx, automargin=False,
        type="log", range=[-3.68, 0.098], zeroline=False, showline=False,
        showgrid=True, gridcolor="white", gridwidth=3.6,
        tickmode="array", tickvals=Y_TICK_VALUES,
        ticktext=Y_TICK_LABELS if is_left else [""] * 4,
        showticklabels=is_left,
        ticks="outside" if is_left else "", ticklen=11, tickwidth=3.6, tickcolor="#333333",
        tickfont=Y_TICK_FONT, ticklabelstandoff=-2,
        minor=dict(tickmode="array", tickvals=Y_MINOR_VALUES, showgrid=True,
                   gridcolor="white", gridwidth=1.8, ticks=""),
    )

    shapes.append(dict(type="rect", xref="paper", yref="paper", layer="below",
                       x0=px(left), x1=px(left + PANEL_W), y0=py(top + PANEL_H), y1=py(top),
                       fillcolor="#EBEBEB", line=dict(width=0)))
    shapes.append(dict(type="rect", xref="paper", yref="paper", layer="below",
                       x0=px(left), x1=px(left + PANEL_W), y0=py(top), y1=py(top - STRIP_H),
                       fillcolor="#D9D9D9", line=dict(width=0)))
    annotations.append(dict(text=name, xref="paper", yref="paper",
                            x=px(left + PANEL_W / 2), y=py(top - STRIP_H / 2 - 1),
                            xanchor="center", yanchor="middle", align="center",
                            width=PANEL_W, showarrow=False,
                            font=dict(family=FONT, size=35.8, color="#1A1A1A")))

    fig.add_trace(go.Scatter(
        x=xs, y=ys, xaxis="x" + sfx, yaxis="y" + sfx, mode="markers",
        marker=dict(size=12, color=f"rgba({hue},0.33)", line=dict(width=2.2, color=f"rgba({hue},0.33)")),
        name=name, hoverinfo="skip",
    ))

    outline_x, outline_y = [], []
    for island, levels, widths in violins:
        outline_x += [island - w for w in widths] + [island + w for w in reversed(widths)] + [island - widths[0], None]
        outline_y += list(levels) + list(reversed(levels)) + [levels[0], None]
    if outline_x:
        fig.add_trace(go.Scatter(
            x=outline_x, y=outline_y, xaxis="x" + sfx, yaxis="y" + sfx, mode="lines",
            line=dict(width=5.5, color=f"rgb({hue})"), connectgaps=False,
            name=name + " violin", hoverinfo="skip",
        ))

annotations.append(dict(text="Relative abundance", xref="paper", yref="paper", x=px(188.5), y=py(46),
                        xanchor="left", yanchor="middle", showarrow=False,
                        font=dict(family=FONT, size=55.2, color="black")))
annotations.append(dict(text="Relative Abundance", xref="paper", yref="paper", x=px(42), y=py(611),
                        xanchor="center", yanchor="middle", textangle=-90, showarrow=False,
                        font=dict(family=FONT, size=45.5, color="black")))
annotations.append(dict(text="Island", xref="paper", yref="paper", x=px(994), y=py(1416),
                        xanchor="center", yanchor="middle", showarrow=False,
                        font=dict(family=FONT, size=44.8, color="black")))

fig.update_layout(**layout, shapes=shapes, annotations=annotations)
fig.write_html("out.html", config={"displayModeBar": False},
               post_script="document.body.style.margin='0';document.body.style.overflow='hidden';")
